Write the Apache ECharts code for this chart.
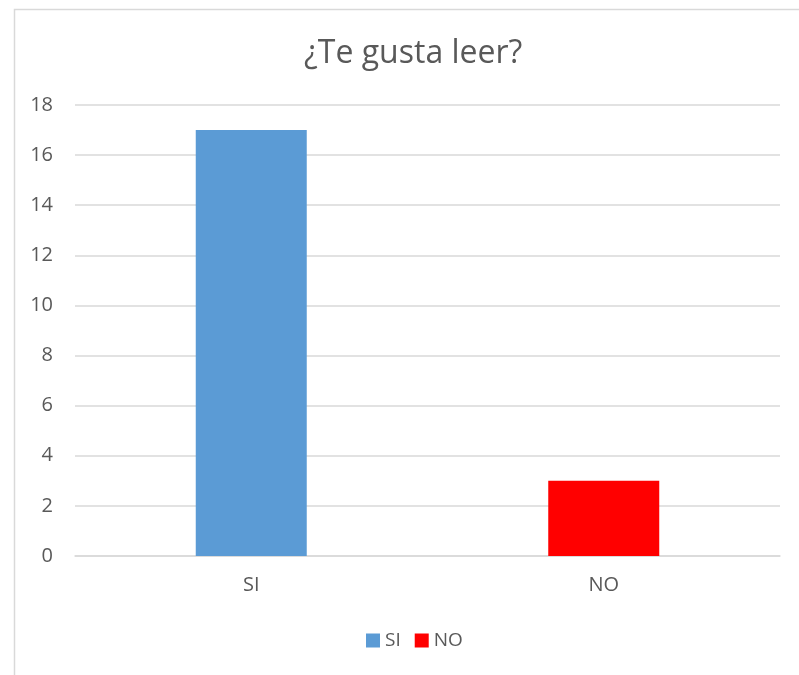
<!DOCTYPE html>
<html>
<head>
<meta charset="utf-8">
<script src="https://cdn.jsdelivr.net/npm/echarts@6/dist/echarts.min.js"></script>
<style>
html,body{margin:0;padding:0;background:#fff;}
#c{width:799px;height:675px;}
</style>
</head>
<body>
<div id="c"></div>
<script>
const categories = ['SI', 'NO'];
const siValues = [17, null];
const noValues = [null, 3];
const yTicks = {min: 0, max: 18, interval: 2};

const chart = echarts.init(document.getElementById('c'));
const font = 'Open Sans';
chart.setOption({
  animation: false,
  graphic: [{
    type: 'rect', left: 12, top: 7,
    shape: {width: 800, height: 680},
    style: {fill: 'none', stroke: '#d9d9d9', lineWidth: 1.5},
    silent: true
  }],
  title: {
    text: '¿Te gusta leer?',
    left: 299, top: 33,
    textStyle: {fontFamily: font, fontSize: 32, fontWeight: 'normal', color: '#595959'}
  },
  legend: {
    bottom: 20, left: 361,
    itemWidth: 14, itemHeight: 14, itemGap: 14,
    icon: 'rect',
    textStyle: {fontFamily: font, fontSize: 19, color: '#595959', padding: [0, 0, 0, 0]},
    data: ['SI', 'NO']
  },
  grid: {left: 75, right: 19, top: 105, bottom: 119},
  xAxis: {
    type: 'category', data: categories,
    axisLine: {lineStyle: {color: '#d9d9d9', width: 1.5}},
    axisTick: {show: false},
    axisLabel: {fontFamily: font, fontSize: 20, color: '#595959', margin: 19}
  },
  yAxis: {
    type: 'value', min: yTicks.min, max: yTicks.max, interval: yTicks.interval,
    axisLine: {show: false}, axisTick: {show: false},
    splitLine: {lineStyle: {color: '#d9d9d9', width: 1.5}},
    axisLabel: {fontFamily: font, fontSize: 20, color: '#595959', margin: 22}
  },
  series: [
    {name: 'SI', type: 'bar', stack: 'a', data: siValues, barWidth: 111, itemStyle: {color: '#5B9BD5'}},
    {name: 'NO', type: 'bar', stack: 'a', data: noValues, barWidth: 111, itemStyle: {color: '#FF0000'}}
  ]
});
</script>
</body>
</html>
